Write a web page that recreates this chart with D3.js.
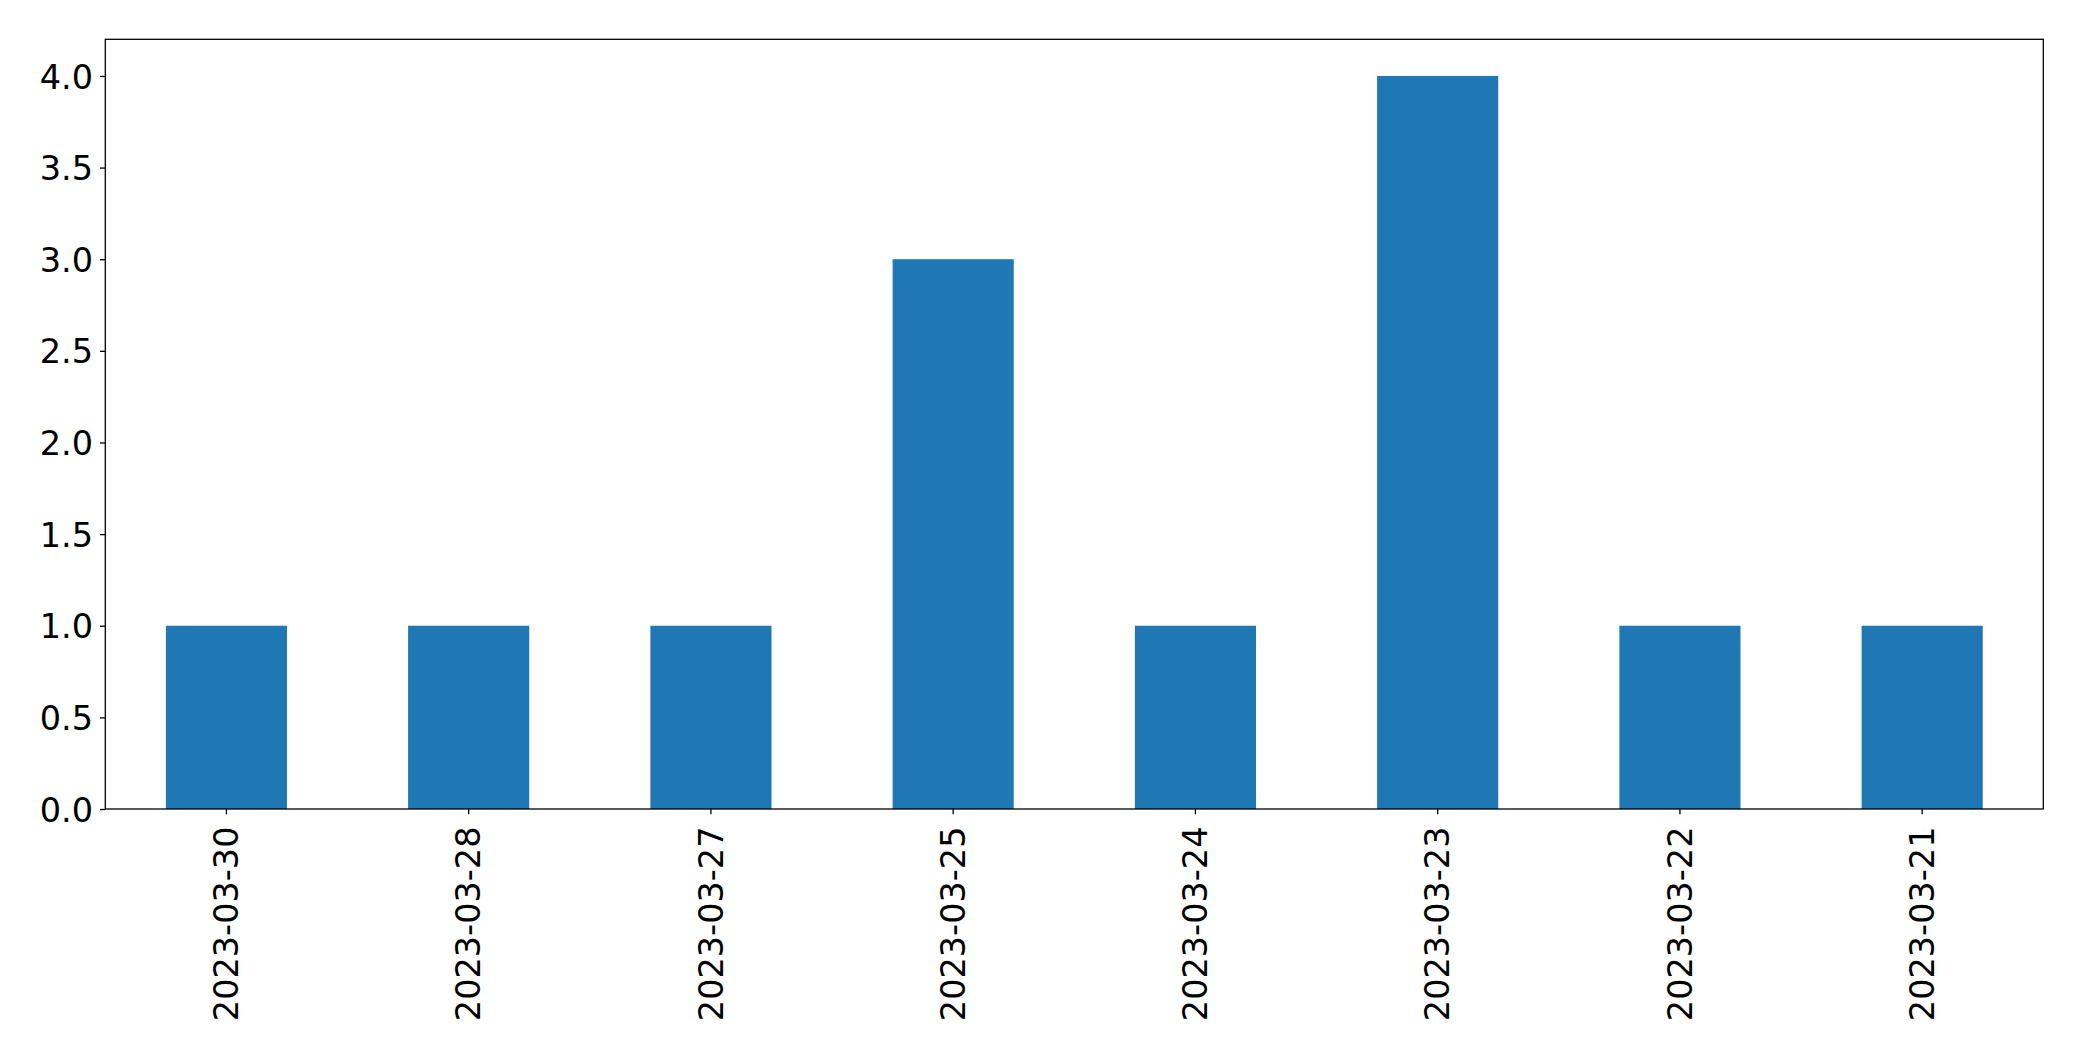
<!DOCTYPE html>
<html><head><meta charset="utf-8">
<script src="https://cdn.jsdelivr.net/npm/d3@7"></script>
<style>body{margin:0;background:#fff}svg{display:block}</style>
</head><body>
<script>
const categories = ["2023-03-30","2023-03-28","2023-03-27","2023-03-25","2023-03-24","2023-03-23","2023-03-22","2023-03-21"];
const values = [1,1,1,3,1,4,1,1];
const yTicks = [0,0.5,1,1.5,2,2.5,3,3.5,4];

const W = 2082, H = 1061;
const m = {left:105.3, right:2043.3, top:39.3, bottom:809};
const svg = d3.select("body").append("svg").attr("width",W).attr("height",H);

const x = d3.scaleBand().domain(categories).range([m.left,m.right]).paddingInner(0.5).paddingOuter(0.25);
const y = d3.scaleLinear().domain([0,4.2]).range([m.bottom,m.top]);

svg.append("g").selectAll("rect").data(values).join("rect")
  .attr("x",(d,i)=>x(categories[i]))
  .attr("width",x.bandwidth())
  .attr("y",d=>y(d))
  .attr("height",d=>y(0)-y(d))
  .attr("fill","#1f77b4");

const font = "DejaVu Sans";
const fs = 33.5;

const ya = svg.append("g").attr("transform",`translate(${m.left},0)`)
  .call(d3.axisLeft(y).tickValues(yTicks).tickFormat(d3.format(".1f")).tickSize(5.3).tickPadding(7));
ya.select(".domain").remove();
ya.selectAll("line").attr("stroke","#000").attr("stroke-width",1.3);
ya.selectAll("text").attr("font-family",font).attr("font-size",fs).attr("fill","#000").attr("dy","0.36em");

const xa = svg.append("g").attr("transform",`translate(0,${m.bottom})`)
  .call(d3.axisBottom(x).tickSize(5.3).tickPadding(7));
xa.select(".domain").remove();
xa.selectAll("line").attr("stroke","#000").attr("stroke-width",1.3);
xa.selectAll("text").attr("font-family",font).attr("font-size",fs).attr("fill","#000")
  .attr("transform","rotate(-90)").attr("text-anchor","end")
  .attr("x",-17.5).attr("y",0).attr("dy","0.35em");

svg.append("rect").attr("x",m.left).attr("y",m.top).attr("width",m.right-m.left).attr("height",m.bottom-m.top)
  .attr("fill","none").attr("stroke","#000").attr("stroke-width",1.3);
</script>
</body></html>
